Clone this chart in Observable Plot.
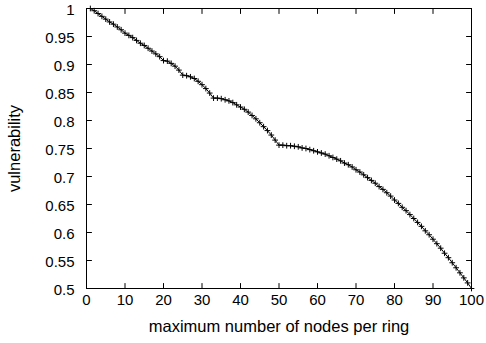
<!DOCTYPE html>
<html><head><meta charset="utf-8">
<script src="https://cdn.jsdelivr.net/npm/d3@7"></script>
<script src="https://cdn.jsdelivr.net/npm/@observablehq/plot@0.6"></script>
<style>body{margin:0;background:#fff}</style>
</head><body><div id="chart"></div>
<script>
const nodes = Array.from({length: 100}, (_, i) => i + 1);
const vulnerability = [
  1.000, 0.996, 0.991, 0.986, 0.981, 0.976, 0.972, 0.967, 0.962, 0.956,
  0.952, 0.948, 0.943, 0.938, 0.934, 0.929, 0.924, 0.919, 0.914, 0.907,
  0.906, 0.902, 0.897, 0.890, 0.881, 0.880, 0.878, 0.875, 0.870, 0.864,
  0.857, 0.849, 0.840, 0.840, 0.839, 0.837, 0.835, 0.832, 0.828, 0.824,
  0.820, 0.815, 0.809, 0.803, 0.796, 0.789, 0.782, 0.774, 0.765, 0.756,
  0.756, 0.755, 0.755, 0.754, 0.753, 0.751, 0.750, 0.748, 0.746, 0.744,
  0.742, 0.740, 0.737, 0.734, 0.731, 0.728, 0.724, 0.721, 0.717, 0.712,
  0.708, 0.703, 0.698, 0.693, 0.688, 0.682, 0.677, 0.671, 0.665, 0.658,
  0.652, 0.645, 0.639, 0.632, 0.625, 0.618, 0.611, 0.603, 0.596, 0.588,
  0.580, 0.572, 0.563, 0.555, 0.546, 0.537, 0.528, 0.519, 0.510, 0.500
];
const xTicks = [0, 10, 20, 30, 40, 50, 60, 70, 80, 90, 100];
const yTicks = [0.5, 0.55, 0.6, 0.65, 0.7, 0.75, 0.8, 0.85, 0.9, 0.95, 1];
const yTickLabels = ["0.5", "0.55", "0.6", "0.65", "0.7", "0.75", "0.8", "0.85", "0.9", "0.95", "1"];
const xLabel = "maximum number of nodes per ring";
const yLabel = "vulnerability";

const data = nodes.map((n, i) => ({n, v: vulnerability[i]}));
const tickShape = {draw(context, l) { context.moveTo(0, 0); context.lineTo(0, -l); }};
const tickOpts = {length: 5, anchor: "start", shape: tickShape, stroke: "black", strokeWidth: 1};

const chart = Plot.plot({
  width: 486, height: 343,
  marginLeft: 86, marginRight: 15, marginTop: 8, marginBottom: 55,
  style: {fontFamily: "'Liberation Sans', Arial, sans-serif", fontSize: "15px", background: "white", color: "black"},
  x: {domain: [0, 100]},
  y: {domain: [0.5, 1]},
  marks: [
    Plot.axisX({ticks: xTicks, tickSize: 0, tickPadding: 6, label: null, fontSize: 15}),
    Plot.axisY({ticks: yTicks, tickSize: 0, tickPadding: 12, dy: 1.5, tickFormat: d => yTickLabels[yTicks.indexOf(d)], label: null, fontSize: 15}),
    Plot.vector(xTicks, {x: d => d, frameAnchor: "bottom", rotate: 0, ...tickOpts}),
    Plot.vector(xTicks, {x: d => d, frameAnchor: "top", rotate: 180, ...tickOpts}),
    Plot.vector(yTicks, {y: d => d, frameAnchor: "left", rotate: 90, ...tickOpts}),
    Plot.vector(yTicks, {y: d => d, frameAnchor: "right", rotate: -90, ...tickOpts}),
    Plot.text([xLabel], {frameAnchor: "bottom", dy: 38, lineAnchor: "middle", textAnchor: "middle", fontSize: 16.5, fill: "black"}),
    Plot.text([yLabel], {frameAnchor: "left", dx: -72, rotate: -90, lineAnchor: "middle", textAnchor: "middle", fontSize: 16.5, fill: "black"}),
    Plot.frame({stroke: "black"}),
    Plot.line(data, {x: "n", y: "v", stroke: "black", strokeWidth: 1}),
    Plot.dot(data, {x: "n", y: "v", symbol: "plus", r: 2, stroke: "black", strokeWidth: 1})
  ]
});
document.getElementById("chart").appendChild(chart);
</script>
</body></html>
